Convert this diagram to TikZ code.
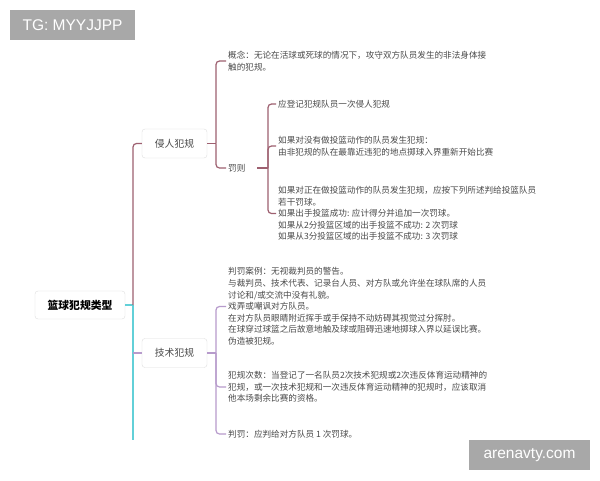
\documentclass[tikz,border=0pt]{standalone}
\usepackage{fontspec}
\newfontfamily\cjk{Noto Sans CJK SC}
\newfontfamily\wmfont{Liberation Sans}
\definecolor{maroonl}{HTML}{9E6070}
\definecolor{lav}{HTML}{B79BCC}
\definecolor{cyanl}{HTML}{62D0D8}
\definecolor{txt}{HTML}{4A4A4A}
\definecolor{wm}{HTML}{A8A8A8}
\tikzset{
  topic/.style={draw=black!13, rounded corners=3pt, fill=white, text=txt,
    font=\cjk\fontsize{9.8}{12}\selectfont, minimum width=65pt, minimum height=29pt, inner sep=0pt},
  roottopic/.style={topic, minimum width=90pt, minimum height=28pt, text=black,
    font=\cjk\bfseries\fontsize{10.8}{13}\selectfont},
  leaf/.style={anchor=west, text=txt, font=\cjk\fontsize{8.6}{11.6}\selectfont,
    align=left, inner xsep=2pt, inner ysep=0pt},
  link/.style={line width=1.2pt, rounded corners=3.5pt},
  wmbox/.style={fill=wm, text=white, font=\wmfont\fontsize{15.5}{18}\selectfont,
    inner sep=0pt, minimum height=30pt},
}
\begin{document}
\begin{tikzpicture}[x=1pt,y=-1pt]
\fill[white] (0,0) rectangle (600,480);
\useasboundingbox (0,0) rectangle (600,480);

% topics
\node[roottopic] (root) at (80,305) {篮球犯规类型};
\node[topic] (b1) at (174.5,143.5) {侵人犯规};
\node[topic] (b2) at (174.5,353) {技术犯规};

% leaves of 侵人犯规
\node[leaf] (c1) at (226,61) {概念：无论在活球或死球的情况下，攻守双方队员发生的非法身体接\\触的犯规。};
\node[leaf] (p1) at (226,168) {罚则};
\node[leaf] (q1) at (276,104) {应登记犯规队员一次侵人犯规};
\node[leaf] (q2) at (276,146) {如果对没有做投篮动作的队员发生犯规：\\由非犯规的队在最靠近违犯的地点掷球入界重新开始比赛};
\node[leaf] (q3) at (276,213.5) {如果对正在做投篮动作的队员发生犯规，应按下列所述判给投篮队员\\若干罚球。\\如果出手投篮成功: 应计得分并追加一次罚球。\\如果从2分投篮区域的出手投篮不成功: 2 次罚球\\如果从3分投篮区域的出手投篮不成功: 3 次罚球};

% leaves of 技术犯规
\node[leaf] (t1) at (226,306.5) {判罚案例：无视裁判员的警告。\\与裁判员、技术代表、记录台人员、对方队或允许坐在球队席的人员\\讨论和/或交流中没有礼貌。\\戏弄或嘲讽对方队员。\\在对方队员眼睛附近挥手或手保持不动妨碍其视觉过分挥肘。\\在球穿过球篮之后故意地触及球或阻碍迅速地掷球入界以延误比赛。\\伪造被犯规。};
\node[leaf] (t2) at (226,387) {犯规次数：当登记了一名队员2次技术犯规或2次违反体育运动精神的\\犯规，或一次技术犯规和一次违反体育运动精神的犯规时，应该取消\\他本场剩余比赛的资格。};
\node[leaf] (t3) at (226,434) {判罚：应判给对方队员 1 次罚球。};

% junction coordinates
\coordinate (j0) at (133,305);
\coordinate (jb2) at (133,353);
\coordinate (jend) at (133,440);
\coordinate (j1) at (216,143.5);
\coordinate (jp) at (257,168);
\coordinate (jp1) at (268,168);
\coordinate (j2) at (216,353);

% root connectors
\draw[link,cyanl] (root.east) -- (j0);
\draw[link,cyanl] (j0) -- (jend);
\draw[link,maroonl] (j0) |- (b1.west);
\draw[link,lav] (jb2) -- (b2.west);

% 侵人犯规 connectors
\draw[link,maroonl] (b1.east) -- (j1);
\draw[link,maroonl] (j1) |- (c1.west);
\draw[link,maroonl] (j1) |- (p1.west);
\draw[link,maroonl] (jp) -- (jp1);
\draw[link,maroonl] (jp1) |- (q1.west);
\draw[link,maroonl] (jp1) |- (q2.west);
\draw[link,maroonl] (jp1) |- (q3.west);

% 技术犯规 connectors
\draw[link,lav] (b2.east) -- (j2);
\draw[link,lav] (j2) |- (t1.west);
\draw[link,lav] (j2) |- (t2.west);
\draw[link,lav] (j2) |- (t3.west);

% watermarks
\node[wmbox, minimum width=125pt] (wm1) at (72.5,25) {TG: MYYJJPP};
\node[wmbox, minimum width=121pt] (wm2) at (529.5,455) {arenavty.com};
\end{tikzpicture}
\end{document}
